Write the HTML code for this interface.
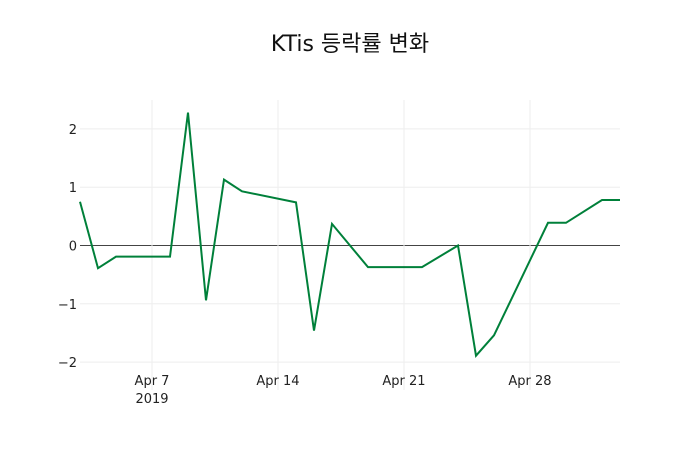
<!DOCTYPE html>
<html><head><meta charset="utf-8"><style>
body{margin:0;background:#fff;}
svg{display:block;font-family:"DejaVu Sans","Noto Sans CJK KR",sans-serif;}
</style></head><body>
<svg id="chart" width="700" height="450">
<text x="350" y="51" text-anchor="middle" font-size="22" fill="#111">KTis 등락률 변화</text>
<g id="grid"></g>
<g id="axes"></g>
<path id="line" fill="none" stroke="#00803a" stroke-width="2"/>
</svg>
<script>
const dates=["2019-04-03","2019-04-04","2019-04-05","2019-04-08","2019-04-09","2019-04-10","2019-04-11","2019-04-12","2019-04-15","2019-04-16","2019-04-17","2019-04-19","2019-04-22","2019-04-24","2019-04-25","2019-04-26","2019-04-29","2019-04-30","2019-05-02","2019-05-03"];
const values=[0.75,-0.39,-0.19,-0.19,2.28,-0.94,1.13,0.93,0.74,-1.46,0.37,-0.37,-0.37,0,-1.89,-1.54,0.39,0.39,0.78,0.78];
const yTicks=[2,1,0,-1,-2];
const yTickLabels=["2","1","0","−1","−2"];
const xTicks=["2019-04-07","2019-04-14","2019-04-21","2019-04-28"];
const xTickLabels=["Apr 7","Apr 14","Apr 21","Apr 28"];
const ns="http://www.w3.org/2000/svg";
const L=80,R=620,T=100,B=390;
const d0=Date.parse("2019-04-03"),d1=Date.parse("2019-05-03");
function xs(d){return L+(Date.parse(d)-d0)/(d1-d0)*(R-L);}
function ys(v){return 245.5-v*58.3;}
const grid=document.getElementById('grid'),axes=document.getElementById('axes');
function mk(tag,attrs,parent){const e=document.createElementNS(ns,tag);for(const k in attrs)e.setAttribute(k,attrs[k]);parent.appendChild(e);return e;}
yTicks.forEach((v,i)=>{
 const y=ys(v);
 const g=mk('line',{x1:L,x2:R,y1:y,y2:y,stroke:v===0?'#444':'#eee','stroke-width':1},grid);
 
 
 const t=mk('text',{x:L-3,y:y+5,'text-anchor':'end','font-size':13,fill:'#222'},axes);
 t.textContent=yTickLabels[i];
 
 
});
xTicks.forEach((d,i)=>{
 const x=xs(d);
 const g=mk('line',{x1:x,x2:x,y1:T,y2:B,stroke:'#eee','stroke-width':1},grid);
 
 
 const t=mk('text',{x:x,y:385,'text-anchor':'middle','font-size':13,fill:'#222'},axes);
 t.textContent=xTickLabels[i];
 
 
 if(i===0){const y2=mk('text',{x:x,y:403,'text-anchor':'middle','font-size':13,fill:'#222'},axes);y2.textContent="2019";
 
 }
});
document.getElementById('line').setAttribute('d',dates.map((d,i)=>(i?'L':'M')+xs(d).toFixed(1)+','+ys(values[i]).toFixed(1)).join(' '));
</script>
</body></html>
